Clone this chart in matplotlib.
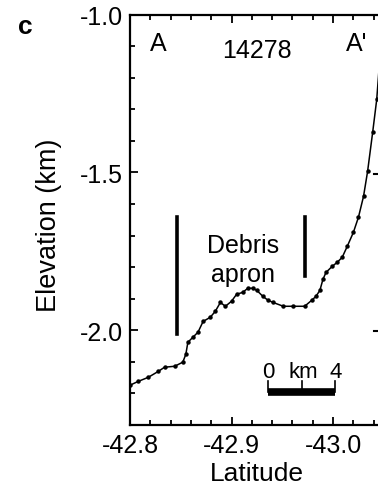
import matplotlib
matplotlib.use("Agg")
import matplotlib.pyplot as plt
from matplotlib.lines import Line2D
from matplotlib.ticker import MultipleLocator

plt.rcParams["font.family"] = ["Liberation Sans", "DejaVu Sans"]
plt.rcParams["axes.unicode_minus"] = False

# profile (latitude, elevation in km)
latitude = [-42.800, -42.808, -42.818, -42.828, -42.834, -42.844, -42.852,
            -42.855, -42.857, -42.862, -42.867, -42.872, -42.879, -42.884,
            -42.889, -42.894, -42.900, -42.905, -42.911, -42.916, -42.921,
            -42.925, -42.931, -42.936, -42.941, -42.951, -42.961, -42.972,
            -42.979, -42.983, -42.987, -42.990, -42.993, -42.999, -43.004,
            -43.009, -43.014, -43.020, -43.025, -43.030, -43.034, -43.039,
            -43.043, -43.046]
elevation = [-2.174, -2.162, -2.149, -2.130, -2.117, -2.114, -2.101,
             -2.076, -2.038, -2.022, -2.006, -1.972, -1.959, -1.940,
             -1.912, -1.924, -1.908, -1.886, -1.880, -1.867, -1.867,
             -1.874, -1.893, -1.905, -1.912, -1.924, -1.924, -1.924,
             -1.905, -1.893, -1.874, -1.839, -1.817, -1.798, -1.785,
             -1.769, -1.734, -1.690, -1.642, -1.576, -1.497, -1.373,
             -1.269, -1.142]

xticks = [-42.8, -42.9, -43.0]
yticks = [-1.0, -1.5, -2.0]
orbit = "14278"

fig = plt.figure(figsize=(3.78, 4.85), dpi=100)
ax = fig.add_axes([130 / 378, 59 / 485, 304.6 / 378, 410.5 / 485])

ax.plot(latitude, elevation, color="black", lw=1.1, marker="o", ms=2.2)

# debris apron markers
ax.plot([-42.846, -42.846], [-1.641, -2.011], color="black", lw=2.6)
ax.plot([-42.972, -42.972], [-1.641, -1.828], color="black", lw=2.6)
ax.text(-42.911, -1.73, "Debris", ha="center", va="center", fontsize=18)
ax.text(-42.911, -1.822, "apron", ha="center", va="center", fontsize=18)

# scale bar
ax.plot([-42.936, -43.002], [-2.197, -2.197], color="black", lw=5.5,
        solid_capstyle="butt")
for xs in [-42.936, -42.969, -43.002]:
    ax.plot([xs, xs], [-2.197, -2.162], color="black", lw=1.2)
ax.text(-42.936, -2.13, "0", ha="center", va="center", fontsize=16)
ax.text(-42.971, -2.13, "km", ha="center", va="center", fontsize=16)
ax.text(-43.003, -2.13, "4", ha="center", va="center", fontsize=16)

# track labels
ax.text(-42.828, -1.09, "A", ha="center", va="center", fontsize=18)
ax.text(-42.925, -1.112, orbit, ha="center", va="center", fontsize=18)
ax.text(-43.023, -1.09, "A'", ha="center", va="center", fontsize=18)

ax.set_xlim(-42.8, -43.1)
ax.set_ylim(-2.3, -1.0)
ax.set_xticks(xticks)
ax.set_xticklabels([f"{t:.1f}" for t in xticks])
ax.set_yticks(yticks)
ax.set_yticklabels([f"{t:.1f}" for t in yticks])
ax.xaxis.set_minor_locator(MultipleLocator(0.02))
ax.yaxis.set_minor_locator(MultipleLocator(0.1))
ax.tick_params(which="both", direction="in", top=True, right=False,
               width=1.3, labelsize=18)
ax.tick_params(which="major", length=5.5)
ax.tick_params(which="minor", length=3.5)
ax.tick_params(axis="x", pad=6)
ax.tick_params(axis="y", pad=5)
for side in ["left", "bottom", "top"]:
    ax.spines[side].set_linewidth(1.6)
ax.spines["right"].set_visible(False)

fig.text(257 / 378, 1 - 474 / 485, "Latitude", ha="center", va="center",
         fontsize=19)
fig.text(49 / 378, 1 - 225 / 485, "Elevation (km)", ha="center",
         va="center", rotation=90, fontsize=19.5)
fig.text(25 / 378, 1 - 27 / 485, "c", ha="center", va="center",
         fontsize=19, fontweight="bold")

# edge of the neighbouring panel (its minus signs show at the right border)
for yp in [175, 332]:
    fig.add_artist(Line2D([374 / 378, 1.0], [1 - yp / 485, 1 - yp / 485],
                          color="black", lw=1.5))

fig.savefig("out.png", dpi=100)
